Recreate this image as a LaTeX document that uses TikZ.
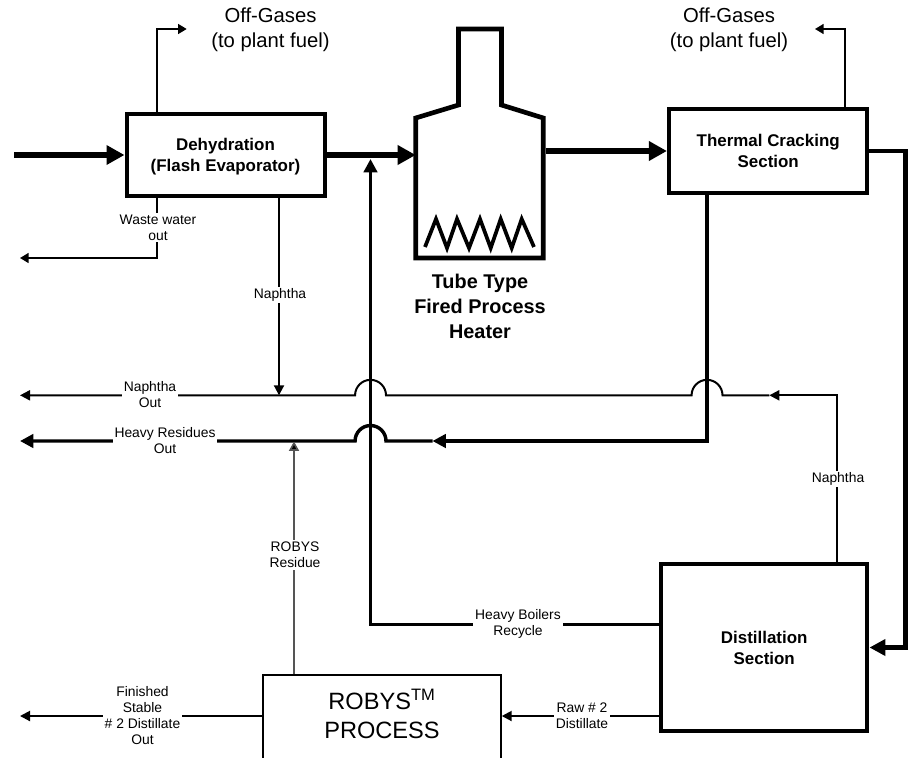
\documentclass[tikz,border=0pt]{standalone}
\usepackage{fontspec}
\setmainfont{Liberation Sans}
\usetikzlibrary{positioning,arrows.meta}
\definecolor{ResidueGray}{RGB}{85,85,85}

\begin{document}
\begin{tikzpicture}[
x=0.75pt, y=-0.75pt,
unit/.style={draw, line width=3pt, align=center, font=\fontsize{12.7}{15.7}\selectfont\bfseries, fill=white},
plain/.style={font=\fontsize{15.2}{18.8}\selectfont, align=center},
tag/.style={font=\fontsize{10.4}{12}\selectfont, align=center, fill=white, inner sep=1.5pt},
thinflow/.style={line width=1.2pt, -{Triangle[length=6.5pt,width=7.5pt]}},
midflow/.style={line width=1.5pt, -{Triangle[length=7.5pt,width=7.5pt]}},
thickflow/.style={line width=2.6pt, -{Triangle[length=10pt,width=10pt]}},
mainflow/.style={line width=4.2pt, -{Triangle[length=13.5pt,width=14pt]}}
]
\path[use as bounding box, clip] (0,0) rectangle (909,757);

% units
\node[unit, text height=27pt, minimum width=148.5pt, minimum height=61.9pt] (dehyd) at (225.5,155) {Dehydration\\(Flash Evaporator)};
\node[unit, text height=27pt, minimum width=148.9pt, minimum height=62.3pt] (crack) at (768.2,151) {Thermal Cracking\\Section\vphantom{g}};
\node[unit, minimum width=154.9pt, minimum height=125.3pt] (dist) at (764.2,647.5) {Distillation\\Section};
\node[draw, line width=1.3pt, fill=white, anchor=north, minimum width=178.3pt, minimum height=100pt] (robys) at (382,674) {};
\node[plain, font=\fontsize{17.7}{21.8}\selectfont] (robystext) at (382,714) {ROBYS\textsuperscript{TM}\\PROCESS};

% heater
\coordinate (heatW) at (415.7,155);
\coordinate (heatE) at (545.5,151);
\draw[line width=3.5pt, miter limit=10] (458.5,105) -- (458.5,29) -- (501.5,29) -- (501.5,105) -- (543.3,118) -- (543.3,258) -- (415.7,258) -- (415.7,118) -- cycle;
\draw[line width=2.8pt, miter limit=10] (425,247) -- (436,219) -- (447,248) -- (457,219) -- (469,248) -- (480,219) -- (490.7,248) -- (500.7,219) -- (511.7,248) -- (521.7,219) -- (534,247);
\node[plain, font=\fontsize{14.9}{18.8}\selectfont\bfseries] (heatlabel) at (480,306) {Tube Type\\Fired Process\\Heater};

% free ends
\coordinate (feed) at (14,155);
\coordinate (gasLup) at (157,29);
\coordinate (gasLend) at (186.7,29);
\coordinate (gasRup) at (845,29);
\coordinate (gasRend) at (815,29);
\coordinate (wasteturn) at (157,258);
\coordinate (wasteend) at (20,258);
\coordinate (naphdown) at (279,395.3);
\coordinate (naphturn) at (837.3,395.3);
\coordinate (naphin) at (769.3,395.3);
\coordinate (hopAr) at (722.5,395.3);
\coordinate (hopBr) at (386,395.3);
\coordinate (naphend) at (20,395.3);
\coordinate (crackturn) at (707,441);
\coordinate (heavyin) at (432.5,441);
\coordinate (hopCr) at (386,441);
\coordinate (heavyend) at (20,441);
\coordinate (residue) at (294,441.5);
\coordinate (recyturn) at (370.5,624.3);
\coordinate (recyend) at (370.5,159);
\coordinate (crackout) at (905.5,151);
\coordinate (crackdown) at (905.5,647.5);
\coordinate (finishend) at (20,716);

% connectors
\draw[mainflow] (feed) -- (dehyd.west);
\draw[mainflow] (dehyd.east) -- (heatW);
\draw[mainflow] (heatE) -- (crack.west);
\draw[thickflow, line width=3.7pt, -{Triangle[length=12pt,width=12pt]}] (crack.east) -- (crackout) -- (crackdown) -- (dist.east);
\draw[thinflow] (dehyd.north -| gasLup) -- (gasLup) -- (gasLend);
\draw[thinflow] (crack.north -| gasRup) -- (gasRup) -- (gasRend);
\draw[thinflow] (dehyd.south -| wasteturn) -- (wasteturn) -- (wasteend);
\draw[midflow] (dehyd.south -| naphdown) -- (naphdown);
\draw[midflow] (dist.north -| naphturn) -- (naphturn) -- (naphin);
\draw[midflow] (naphin) -- (hopAr) arc[start angle=0, end angle=180, radius=11.6pt] -- (hopBr) arc[start angle=0, end angle=180, radius=11.6pt] -- (naphend);
\draw[thickflow] (crack.south -| crackturn) -- (crackturn) -- (heavyin);
\draw[thickflow] (heavyin) -- (hopCr) arc[start angle=0, end angle=180, radius=11.6pt] -- (heavyend);
\draw[thinflow, draw=ResidueGray, -{Triangle[length=7pt,width=7.5pt,fill=black]}] (robys.north -| residue) -- (residue);
\draw[thickflow] (dist.west |- recyturn) -- (recyturn) -- (recyend);
\draw[midflow] (dist.west |- finishend) -- (robys.east |- finishend);
\draw[midflow] (robys.west |- finishend) -- (finishend);

% labels
\node[plain] (gasLlabel) at (270.5,30) {Off-Gases\\(to plant fuel)};
\node[plain] (gasRlabel) at (729,30) {Off-Gases\\(to plant fuel)};
\node[tag] (wastelabel) at (158,227.5) {Waste water\\out};
\node[tag] (naphlabelA) at (280,295) {Naphtha};
\node[tag] (naphlabelB) at (150,395) {Naphtha\\Out};
\node[tag] (heavylabel) at (165,441) {Heavy Residues\\Out};
\node[tag] (residuelabel) at (295,555) {ROBYS\\Residue};
\node[tag] (recylabel) at (518,624) {Heavy Boilers\\Recycle};
\node[tag] (finishlabel) at (142.5,716) {Finished\\Stable\\\# 2 Distillate\\Out};
\node[tag] (rawlabel) at (582,715.5) {Raw \# 2\\Distillate};
\node[tag] (naphlabelC) at (838,479) {Naphtha};
\end{tikzpicture}
\end{document}
